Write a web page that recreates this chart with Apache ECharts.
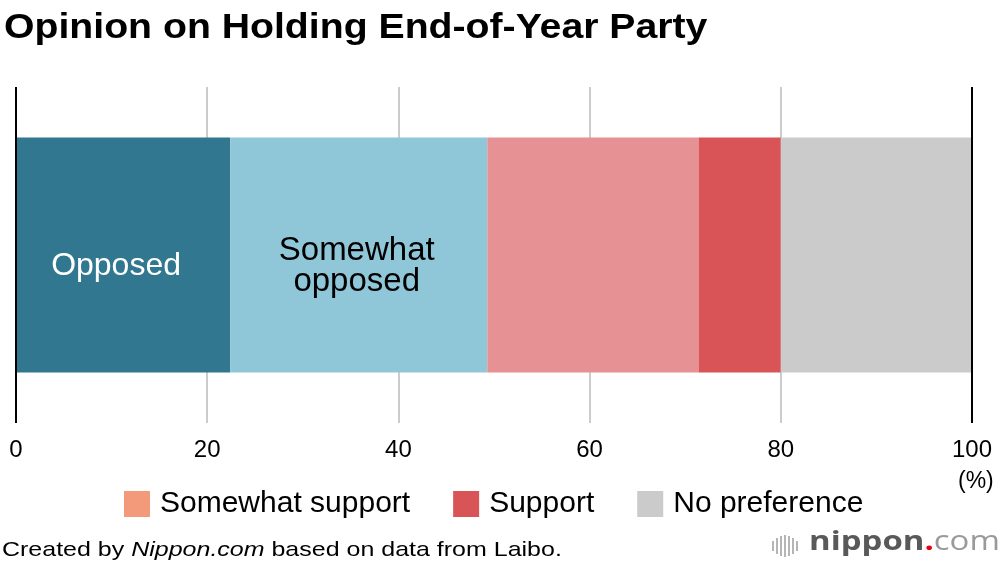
<!DOCTYPE html>
<html>
<head>
<meta charset="utf-8">
<script src="https://cdn.jsdelivr.net/npm/echarts@6/dist/echarts.min.js"></script>
<style>html,body{margin:0;padding:0;background:#fff;}#chart{width:1000px;height:570px;}</style>
</head>
<body>
<div id="chart"></div>
<script>
const categories = ['Opinion'];
const seriesNames = ['Opposed', 'Somewhat opposed', 'Somewhat support', 'Support', 'No preference'];
const opposed = [22.4];
const somewhatOpposed = [26.9];
const somewhatSupport = [22.1];
const support = [8.6];
const noPreference = [20.0];
const xTicks = [0, 20, 40, 60, 80, 100];

const FONT = '"Liberation Sans", Arial, Helvetica, sans-serif';
const colors = ['#31778f', '#8fc7d9', '#e69194', '#d95457', '#cbcbcb'];
const values = [opposed, somewhatOpposed, somewhatSupport, support, noPreference];

const chart = echarts.init(document.getElementById('chart'));
const series = seriesNames.map((name, i) => {
  const s = {
    name: name,
    type: 'bar',
    stack: 'total',
    barWidth: '70%',
    data: values[i],
    itemStyle: { color: colors[i] },
    emphasis: { disabled: true },
    label: { show: false }
  };
  if (i === 0) {
    s.label = { show: true, position: 'inside', offset: [-7, 11], formatter: 'Opposed', color: '#fff', fontSize: 32, fontFamily: FONT };
    s.markLine = {
      silent: true, symbol: 'none', label: { show: false },
      lineStyle: { color: '#000', width: 2, type: 'solid' },
      data: [{ xAxis: xTicks[0] }, { xAxis: xTicks[xTicks.length - 1] }],
      z: 10
    };
  }
  if (i === 1) {
    s.label = { show: true, position: 'inside', offset: [-2, 11], formatter: 'Somewhat\nopposed', color: '#000', fontSize: 33, lineHeight: 31, fontFamily: FONT };
  }
  return s;
});

const bars = [[0, 10], [4, 16], [8, 20], [12, 22], [16, 20], [20, 16], [24, 10]];

chart.setOption({
  animation: false,
  grid: { left: 16, right: 28, top: 87, bottom: 147, containLabel: false },
  xAxis: {
    type: 'value', min: 0, max: 100, interval: 20,
    axisLine: { show: false }, axisTick: { show: false },
    axisLabel: { fontSize: 24, color: '#000', fontFamily: FONT, margin: 15 },
    splitLine: { show: true, lineStyle: { color: '#cccccc', width: 2 } }
  },
  yAxis: {
    type: 'category', data: categories,
    axisLine: { show: false }, axisTick: { show: false }, axisLabel: { show: false }
  },
  legend: {
    left: 124, top: 489, padding: 0,
    itemWidth: 26, itemHeight: 26, itemGap: 43,
    icon: 'rect',
    textStyle: { fontSize: 30, color: '#000', fontFamily: FONT, padding: [0, 0, 0, 5] },
    data: [
      { name: 'Somewhat support', itemStyle: { color: '#f39a7b' } },
      { name: 'Support' },
      { name: 'No preference' }
    ],
    selectedMode: false
  },
  graphic: [
    { type: 'text', x: 4, y: 11, scaleX: 1.12, style: {
      text: 'Opinion on Holding End-of-Year Party', verticalAlign: 'top', align: 'left',
      fontSize: 35, fontWeight: 'bold', fill: '#000', fontFamily: FONT } },
    { type: 'text', x: 958, y: 470, style: { text: '(%)', verticalAlign: 'top', fontSize: 23, fill: '#000', fontFamily: FONT } },
    { type: 'text', x: 2, y: 540, scaleX: 1.19, style: {
      verticalAlign: 'top', align: 'left',
      text: '{n|Created by }{i|Nippon.com}{n| based on data from Laibo.}',
      rich: {
        n: { fontSize: 21, fill: '#000', fontFamily: FONT },
        i: { fontSize: 21, fill: '#000', fontStyle: 'italic', fontFamily: FONT }
      }
    } },
    { type: 'group', x: 772, y: 535, children: bars.map(b => ({
      type: 'rect', shape: { x: b[0], y: (22 - b[1]) / 2, width: 2, height: b[1] }, style: { fill: '#b5b5b5' }
    })) },
    { type: 'text', x: 809, y: 529, scaleX: 1.22, style: {
      verticalAlign: 'top', align: 'left',
      text: '{a|nippon}{b|.}{c|com}',
      rich: {
        a: { fontSize: 27, fontWeight: 'bold', fill: '#595959', fontFamily: '"Open Sans", sans-serif' },
        b: { fontSize: 27, fontWeight: 'bold', fill: '#e60012', fontFamily: '"Open Sans", sans-serif' },
        c: { fontSize: 27, fontWeight: 'normal', fill: '#9a9a9a', fontFamily: '"Open Sans", sans-serif' }
      }
    } }
  ],
  series: series
});
</script>
</body>
</html>
